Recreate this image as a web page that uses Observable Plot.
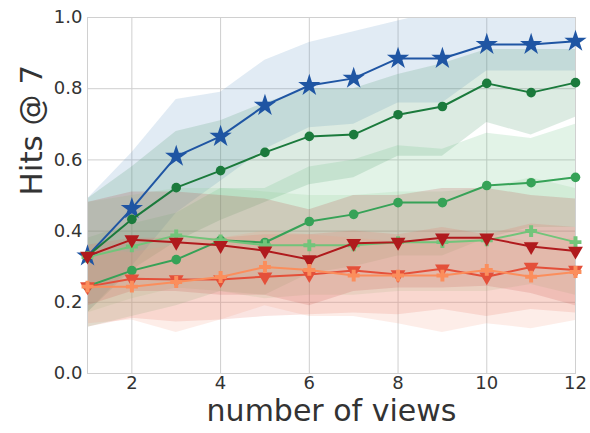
<!DOCTYPE html>
<html>
<head>
<meta charset="utf-8">
<script src="https://cdn.jsdelivr.net/npm/d3@7"></script>
<script src="https://cdn.jsdelivr.net/npm/@observablehq/plot@0.6"></script>
<style>
  html, body { margin: 0; padding: 0; background: #fff; }
  #chart svg { display: block; }
</style>
</head>
<body>
<div id="chart"></div>
<script>
// Number of views on the x axis
const views = [1, 2, 3, 4, 5, 6, 7, 8, 9, 10, 11, 12];
const yTicks = [0, 0.2, 0.4, 0.6, 0.8, 1.0];
const xTicks = [2, 4, 6, 8, 10, 12];

// Mean Hits@7 for each run, with lower / upper spread
const starBlueMean  = [0.33, 0.463, 0.61, 0.666, 0.753, 0.809, 0.829, 0.885, 0.885, 0.924, 0.924, 0.933];
const starBlueLow   = [0.17, 0.30, 0.45, 0.54, 0.63, 0.69, 0.70, 0.76, 0.76, 0.85, 0.85, 0.85];
const starBlueHigh  = [0.49, 0.62, 0.77, 0.79, 0.88, 0.93, 0.96, 0.99, 1.02, 1.05, 1.05, 1.05];

const darkGreenMean = [0.33, 0.433, 0.522, 0.57, 0.621, 0.666, 0.671, 0.727, 0.75, 0.815, 0.789, 0.817];
const darkGreenLow  = [0.17, 0.29, 0.37, 0.43, 0.48, 0.53, 0.55, 0.61, 0.61, 0.705, 0.67, 0.72];
const darkGreenHigh = [0.49, 0.58, 0.68, 0.71, 0.76, 0.80, 0.80, 0.84, 0.87, 0.91, 0.91, 0.91];

const midGreenMean  = [0.245, 0.289, 0.32, 0.374, 0.368, 0.427, 0.447, 0.48, 0.48, 0.528, 0.536, 0.551];
const midGreenLow   = [0.13, 0.16, 0.19, 0.23, 0.22, 0.28, 0.30, 0.33, 0.33, 0.38, 0.41, 0.41];
const midGreenHigh  = [0.38, 0.42, 0.45, 0.52, 0.52, 0.58, 0.60, 0.64, 0.63, 0.675, 0.66, 0.70];

const lightGreenMean = [0.327, 0.357, 0.388, 0.374, 0.36, 0.36, 0.36, 0.369, 0.369, 0.374, 0.40, 0.369];
const lightGreenLow  = [0.17, 0.21, 0.24, 0.23, 0.21, 0.22, 0.22, 0.23, 0.23, 0.23, 0.25, 0.22];
const lightGreenHigh = [0.48, 0.50, 0.52, 0.52, 0.51, 0.50, 0.50, 0.51, 0.51, 0.52, 0.55, 0.52];

const darkRedMean   = [0.33, 0.376, 0.369, 0.36, 0.345, 0.32, 0.366, 0.369, 0.381, 0.381, 0.357, 0.344];
const darkRedLow    = [0.19, 0.23, 0.23, 0.22, 0.22, 0.19, 0.23, 0.24, 0.24, 0.245, 0.225, 0.19];
const darkRedHigh   = [0.48, 0.51, 0.51, 0.50, 0.49, 0.46, 0.50, 0.50, 0.52, 0.52, 0.50, 0.49];

const redMean       = [0.244, 0.266, 0.264, 0.264, 0.272, 0.278, 0.289, 0.278, 0.294, 0.272, 0.299, 0.291];
const redLow        = [0.13, 0.155, 0.145, 0.15, 0.16, 0.165, 0.17, 0.165, 0.18, 0.16, 0.18, 0.17];
const redHigh       = [0.36, 0.38, 0.38, 0.38, 0.39, 0.39, 0.40, 0.39, 0.41, 0.39, 0.42, 0.41];

const orangeMean    = [0.244, 0.244, 0.257, 0.271, 0.299, 0.291, 0.275, 0.275, 0.275, 0.291, 0.272, 0.285];
const orangeLow     = [0.14, 0.15, 0.115, 0.15, 0.19, 0.16, 0.16, 0.14, 0.115, 0.14, 0.126, 0.149];
const orangeHigh    = [0.35, 0.34, 0.36, 0.38, 0.40, 0.39, 0.38, 0.37, 0.37, 0.39, 0.37, 0.38];

// Drawing style per run: line/marker colour and a lighter band colour
const runs = [
  {mean: starBlueMean,   low: starBlueLow,   high: starBlueHigh,   color: "#1f55a3", band: "#5b8fc4", symbol: "star",     r: 7,   rotate: 0},
  {mean: darkGreenMean,  low: darkGreenLow,  high: darkGreenHigh,  color: "#1b7a3c", band: "#3c8f5c", symbol: "circle",   r: 4.8, rotate: 0},
  {mean: midGreenMean,   low: midGreenLow,   high: midGreenHigh,   color: "#36a257", band: "#5cba7c", symbol: "circle",   r: 4.8, rotate: 0},
  {mean: lightGreenMean, low: lightGreenLow, high: lightGreenHigh, color: "#72c47a", band: "#8ccf92", symbol: "cross",    r: 5,   rotate: 0},
  {mean: darkRedMean,    low: darkRedLow,    high: darkRedHigh,    color: "#b01a1d", band: "#b5383a", symbol: "triangle", r: 5.5, rotate: 180},
  {mean: redMean,        low: redLow,        high: redHigh,        color: "#e4503a", band: "#e66a56", symbol: "triangle", r: 5.5, rotate: 180},
  {mean: orangeMean,     low: orangeLow,     high: orangeHigh,     color: "#fb8e5c", band: "#f59a80", symbol: "cross",    r: 5,   rotate: 0}
];

const rowsOf = (run) => views.map((v, i) => ({views: v, mean: run.mean[i], low: run.low[i], high: run.high[i]}));

const bandMarks = runs.map(run =>
  Plot.areaY(rowsOf(run), {x: "views", y1: "low", y2: "high", fill: run.band, fillOpacity: 0.18, clip: true})
);
const lineMarks = runs.flatMap(run => [
  Plot.line(rowsOf(run), {x: "views", y: "mean", stroke: run.color, strokeWidth: 2}),
  Plot.dot(rowsOf(run), {x: "views", y: "mean", fill: run.color, symbol: run.symbol, r: run.r, rotate: run.rotate, stroke: "none"})
]);

const chart = Plot.plot({
  width: 590,
  height: 433,
  marginLeft: 87,
  marginRight: 15,
  marginTop: 17,
  marginBottom: 60,
  style: {fontFamily: "DejaVu Sans", color: "#333", background: "#fff", overflow: "visible"},
  x: {domain: [1, 12]},
  y: {domain: [0, 1]},
  marks: [
    Plot.gridX(xTicks, {stroke: "#cfcfcf", strokeOpacity: 1}),
    Plot.gridY(yTicks, {stroke: "#cfcfcf", strokeOpacity: 1}),
    ...bandMarks,
    Plot.frame({stroke: "#d0d0d0"}),
    ...lineMarks,
    Plot.axisX(xTicks, {tickSize: 0, tickPadding: 3, fontSize: 18, fill: "#333", label: null}),
    Plot.axisY(yTicks, {tickSize: 0, tickPadding: 5, fontSize: 18, fill: "#333", tickFormat: d3.format(".1f"), label: null}),
    Plot.text(["Hits @ 7"], {frameAnchor: "left", dx: -55, rotate: -90, fontSize: 31, fill: "#333"}),
    Plot.text(["number of views"], {frameAnchor: "bottom", dy: 47, fontSize: 30, fill: "#333"})
  ]
});
document.getElementById("chart").appendChild(chart);
</script>
</body>
</html>
